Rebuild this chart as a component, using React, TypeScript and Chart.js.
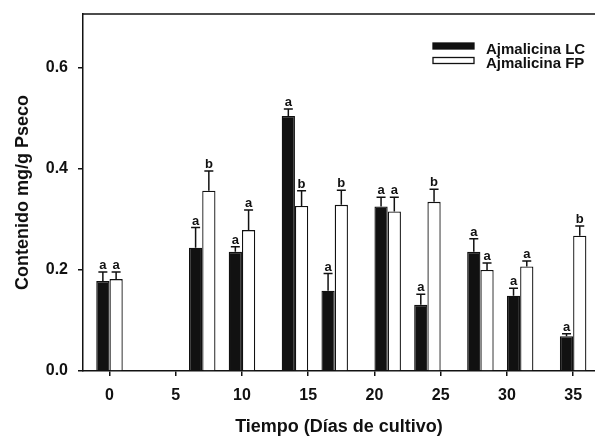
import React, { useEffect, useRef } from "react";
import { Chart, registerables } from "chart.js";

Chart.register(...registerables);

const days = [0, 7, 10, 14, 17, 21, 24, 28, 31, 35];
const lcValues = [0.178, 0.244, 0.236, 0.505, 0.159, 0.326, 0.131, 0.236, 0.149, 0.069];
const lcErrors = [0.018, 0.040, 0.010, 0.014, 0.034, 0.018, 0.021, 0.026, 0.015, 0.005];
const fpValues = [0.182, 0.357, 0.279, 0.327, 0.329, 0.316, 0.335, 0.200, 0.207, 0.268];
const fpErrors = [0.014, 0.039, 0.040, 0.030, 0.029, 0.028, 0.025, 0.014, 0.011, 0.019];
const lcLetters = ["a", "a", "a", "a", "a", "a", "a", "a", "a", "a"];
const fpLetters = ["a", "b", "a", "b", "b", "a", "b", "a", "a", "b"];
const xTicks = [0, 5, 10, 15, 20, 25, 30, 35];
const yTicks = [0, 0.2, 0.4, 0.6];
const seriesLabels = ["Ajmalicina LC", "Ajmalicina FP"];

const FONT = "'Liberation Sans', Arial, Helvetica, sans-serif";

const errorPlugin = {
  id: "errorLetters",
  afterDatasetsDraw(chart: any) {
    const ctx = chart.ctx;
    const yScale = chart.scales.y;
    const errs = [lcErrors, fpErrors];
    const letters = [lcLetters, fpLetters];
    ctx.save();
    ctx.strokeStyle = "#111";
    ctx.fillStyle = "#111";
    ctx.lineWidth = 1.5;
    ctx.font = `bold 13px ${FONT}`;
    ctx.textAlign = "center";
    ctx.textBaseline = "alphabetic";
    chart.data.datasets.forEach((ds: any, i: number) => {
      const meta = chart.getDatasetMeta(i);
      meta.data.forEach((el: any, j: number) => {
        const v = ds.data[j].y;
        const top = yScale.getPixelForValue(v + errs[i][j]);
        ctx.beginPath();
        ctx.moveTo(el.x, el.y);
        ctx.lineTo(el.x, top);
        ctx.moveTo(el.x - 4.5, top);
        ctx.lineTo(el.x + 4.5, top);
        ctx.stroke();
        ctx.fillText(letters[i][j], el.x, top - 3);
      });
    });
    ctx.restore();
  },
};

const framePlugin = {
  id: "frameLegend",
  afterDraw(chart: any) {
    const ctx = chart.ctx;
    const a = chart.chartArea;
    ctx.save();
    ctx.strokeStyle = "#111";
    ctx.lineWidth = 1.5;
    ctx.beginPath();
    ctx.moveTo(a.left, a.top);
    ctx.lineTo(a.right, a.top);
    ctx.stroke();
    const rx = a.right - 162;
    const rows = [
      { y: 43, baseline: 53.5 },
      { y: 57.5, baseline: 67.5 },
    ];
    ctx.font = `bold 15px ${FONT}`;
    ctx.textAlign = "left";
    ctx.textBaseline = "alphabetic";
    chart.data.datasets.forEach((ds: any, i: number) => {
      const r = rows[i];
      ctx.fillStyle = ds.backgroundColor;
      ctx.fillRect(rx, r.y, 41, 6);
      ctx.lineWidth = 1.3;
      ctx.strokeStyle = "#111";
      ctx.strokeRect(rx, r.y, 41, 6);
      ctx.fillStyle = "#111";
      ctx.fillText(ds.label, rx + 53, r.baseline);
    });
    ctx.restore();
  },
};

export default function App() {
  const ref = useRef<HTMLCanvasElement | null>(null);
  useEffect(() => {
    if (!ref.current) return;
    const chart = new Chart(ref.current, {
      type: "bar",
      data: {
        datasets: [
          {
            label: seriesLabels[0],
            data: days.map((d, i) => ({ x: d, y: lcValues[i] })),
            backgroundColor: "#111111",
            borderColor: "#111111",
            borderWidth: 1.3,
          },
          {
            label: seriesLabels[1],
            data: days.map((d, i) => ({ x: d, y: fpValues[i] })),
            backgroundColor: "#ffffff",
            borderColor: "#111111",
            borderWidth: 1.3,
          },
        ],
      },
      options: {
        animation: false,
        responsive: true,
        maintainAspectRatio: false,
        layout: { padding: { top: 14, right: 0, left: 0, bottom: 0 } },
        datasets: { bar: { categoryPercentage: 2 / 3, barPercentage: 1 } } as any,
        plugins: { legend: { display: false }, tooltip: { enabled: false } },
        scales: {
          x: {
            type: "linear",
            offset: false,
            min: -2,
            max: 36.65,
            afterBuildTicks: (s: any) => {
              s.ticks = xTicks.map((v) => ({ value: v }));
            },
            afterFit: (s: any) => {
              s.height = 70;
              s.paddingLeft = 0;
              s.paddingRight = 0;
            },
            grid: { display: true, offset: false, drawOnChartArea: false, drawTicks: true, tickLength: 5, color: "#111", lineWidth: 1.5 },
            border: { display: true, color: "#111", width: 1.5 },
            ticks: { color: "#111", font: { family: FONT, size: 16, weight: "bold" }, padding: 10, maxRotation: 0, autoSkip: false },
            title: {
              display: true,
              text: "Tiempo (Días de cultivo)",
              color: "#111",
              font: { family: FONT, size: 18, weight: "bold" },
              padding: { top: 0, bottom: 3 },
            },
          },
          y: {
            min: 0,
            max: 0.707,
            afterBuildTicks: (s: any) => {
              s.ticks = yTicks.map((v) => ({ value: v }));
            },
            afterFit: (s: any) => {
              s.width = 83;
              s.paddingTop = 0;
              s.paddingBottom = 0;
            },
            grid: { display: true, drawOnChartArea: false, drawTicks: true, tickLength: 5, color: "#111", lineWidth: 1.5 },
            border: { display: true, color: "#111", width: 1.5 },
            ticks: {
              color: "#111",
              font: { family: FONT, size: 16, weight: "bold" },
              padding: 10,
              callback: (v: any) => Number(v).toFixed(1),
            },
            title: {
              display: true,
              text: "Contenido mg/g Pseco",
              color: "#111",
              font: { family: FONT, size: 18, weight: "bold" },
              padding: { top: 12, bottom: 0 },
            },
          },
        },
      },
      plugins: [errorPlugin, framePlugin],
    });
    return () => chart.destroy();
  }, []);
  return (
    <div style={{ position: "fixed", left: 0, top: 0, width: 595, height: 441, background: "#fff" }}>
      <canvas ref={ref} />
    </div>
  );
}
